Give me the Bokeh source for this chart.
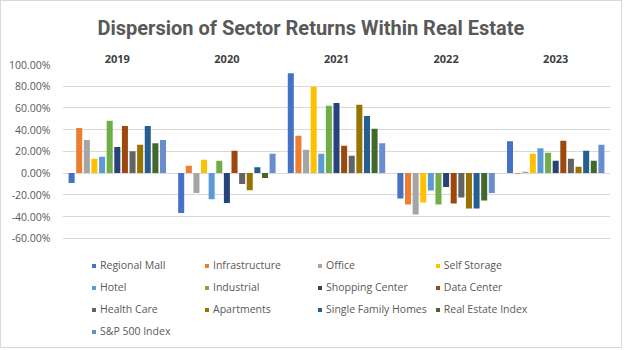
from bokeh.plotting import figure
from bokeh.models import (ColumnDataSource, Legend, LegendItem, FixedTicker,
                          PrintfTickFormatter, Range1d, Title)
from bokeh.embed import file_html
from bokeh.resources import INLINE

years = ["2019", "2020", "2021", "2022", "2023"]
series = ["Regional Mall", "Infrastructure", "Office", "Self Storage", "Hotel",
          "Industrial", "Shopping Center", "Data Center", "Health Care",
          "Apartments", "Single Family Homes", "Real Estate Index", "S&P 500 Index"]
colors = ["#4472C4", "#ED7D31", "#A5A5A5", "#FFC000", "#5B9BD5", "#70AD47",
          "#264478", "#9E480E", "#636363", "#997300", "#255E91", "#43682B", "#698ED0"]

regional_mall = [-9.2, -36.8, 92.0, -23.4, 29.4]
infrastructure = [41.6, 6.7, 34.3, -28.9, -0.6]
office = [30.6, -18.4, 21.5, -38.1, 1.2]
self_storage = [13.2, 12.2, 79.5, -27.0, 17.8]
hotel = [15.0, -24.0, 17.8, -16.0, 23.0]
industrial = [48.2, 11.3, 62.0, -28.9, 18.7]
shopping_center = [24.0, -27.6, 64.5, -12.9, 11.3]
data_center = [43.3, 20.5, 25.1, -28.0, 29.7]
health_care = [20.2, -10.1, 15.9, -22.4, 13.2]
apartments = [26.0, -15.7, 62.9, -32.5, 5.8]
single_family_homes = [43.3, 5.5, 52.5, -32.5, 20.5]
real_estate_index = [27.6, -4.6, 40.8, -25.2, 11.3]
sp500_index = [30.4, 17.8, 27.6, -18.4, 26.0]

values = [regional_mall, infrastructure, office, self_storage, hotel, industrial,
          shopping_center, data_center, health_care, apartments,
          single_family_homes, real_estate_index, sp500_index]
y_ticks = [-60, -40, -20, 0, 20, 40, 60, 80, 100]

TXT = "#595959"
# frame spans down to the bottom of the chart so the legend can sit inside it;
# grid lines and labels are limited to the -60%..100% ticks
p = figure(width=622, height=348, output_backend="svg", toolbar_location=None,
           x_range=Range1d(-0.5, 4.5), y_range=Range1d(-162.4, 100),
           x_axis_location="above", min_border_left=61, min_border_right=13,
           min_border_top=63, min_border_bottom=0, background_fill_color="white",
           border_fill_color="white")
p.outline_line_color = None
p.styles = {"border": "1px solid #D9D9D9"}

title = Title(text="Dispersion of Sector Returns Within Real Estate", align="left",
              offset=35, text_font="Roboto", text_font_style="bold",
              text_font_size="20px", text_color=TXT, standoff=24)
p.add_layout(title, "above")

step = 0.0695
bw = 0.055
items = []
for j, (name, col, vals) in enumerate(zip(series, colors, values)):
    xs = [i + (j - 6) * step for i in range(len(years))]
    src = ColumnDataSource(dict(x=xs, top=vals))
    r = p.vbar(x="x", top="top", bottom=0, width=bw, source=src,
               fill_color=col, line_color=None)
    items.append(LegendItem(label=name, renderers=[r]))

p.xgrid.grid_line_color = None
p.ygrid.grid_line_color = "#D9D9D9"
p.ygrid.ticker = FixedTicker(ticks=y_ticks)

xa = p.xaxis[0]
xa.ticker = FixedTicker(ticks=[0, 1, 2, 3, 4])
xa.major_label_overrides = {i: y for i, y in enumerate(years)}
xa.axis_line_color = None
xa.major_tick_line_color = None
xa.minor_tick_line_color = None
xa.major_tick_out = 0
xa.major_label_standoff = 2
xa.major_label_text_font = "Open Sans"
xa.major_label_text_font_style = "bold"
xa.major_label_text_font_size = "11px"
xa.major_label_text_color = "#404040"

ya = p.yaxis[0]
ya.ticker = FixedTicker(ticks=y_ticks)
ya.formatter = PrintfTickFormatter(format="%.2f%%")
ya.axis_line_color = None
ya.major_tick_line_color = None
ya.minor_tick_line_color = None
ya.major_tick_out = 0
ya.major_label_standoff = 12
ya.major_label_text_font = "Open Sans"
ya.major_label_text_font_size = "10.5px"
ya.major_label_text_color = TXT

legend = Legend(items=items, ncols=4, location=(29, 11), orientation="horizontal",
                glyph_width=5, glyph_height=5, label_standoff=4, label_width=96,
                label_height=14, spacing=8, padding=0, margin=0,
                border_line_color=None, background_fill_alpha=0,
                label_text_font="Open Sans", label_text_font_size="10.5px",
                label_text_color=TXT)
p.add_layout(legend, "center")

open("out.html", "w").write(file_html(p, INLINE))
